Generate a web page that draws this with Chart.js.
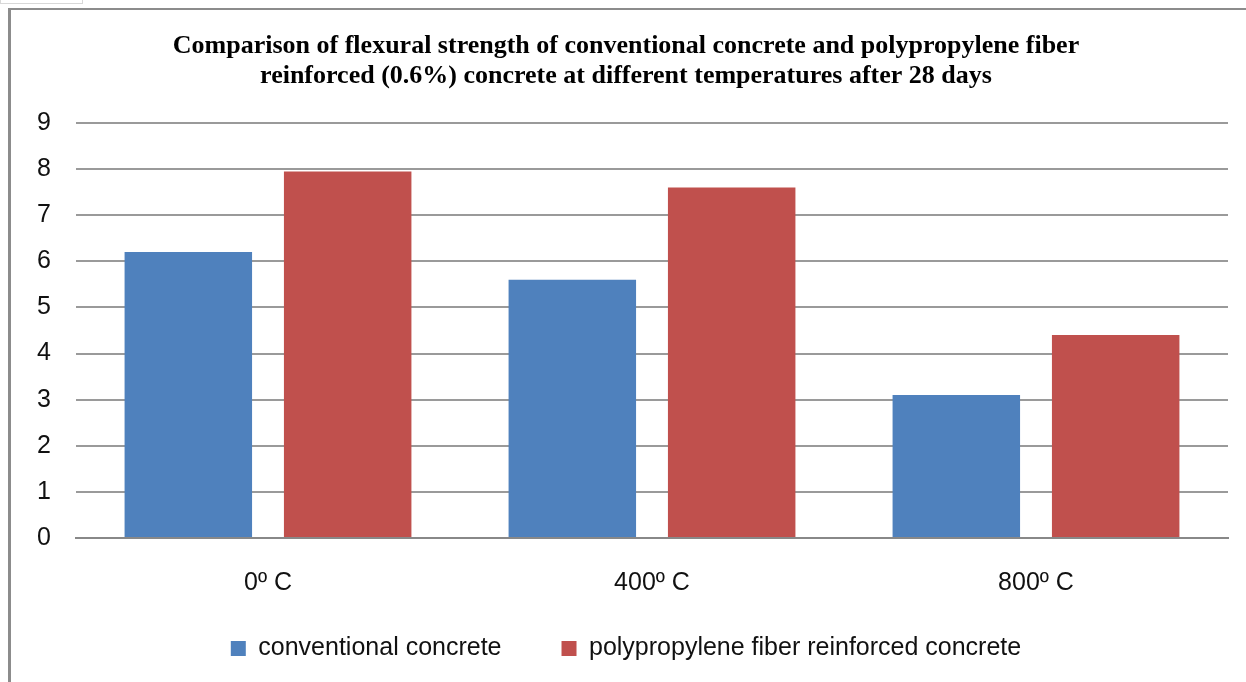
<!DOCTYPE html>
<html>
<head>
<meta charset="utf-8">
<script src="https://cdn.jsdelivr.net/npm/chart.js@4/dist/chart.umd.min.js"></script>
<style>
  html, body { margin: 0; padding: 0; background: #fff; }
  body { width: 1246px; height: 682px; position: relative; overflow: hidden; }
  #tab { position: absolute; left: 0; top: -1px; width: 81px; height: 3px; border: 1px solid #d8d8d8; }
  #frame { position: absolute; left: 8px; top: 8px; width: 1260px; height: 700px;
           border-left: 3px solid #8c8c8c; border-top: 2px solid #8c8c8c; }
  #wrap { position: absolute; left: 11px; top: 10px; width: 1235px; height: 672px; }
</style>
</head>
<body>
<div id="tab"></div>
<div id="frame"></div>
<div id="wrap"><canvas id="chart"></canvas></div>
<script>
// Data
const categories = ['0\u00BA C', '400\u00BA C', '800\u00BA C'];
const conventional = [6.2, 5.6, 3.1];
const polypropylene = [7.95, 7.6, 4.4];
const yTicks = [0, 1, 2, 3, 4, 5, 6, 7, 8, 9];

const titleLines = [
    'Comparison of flexural strength of conventional concrete and polypropylene fiber',
    'reinforced (0.6%) concrete at different temperatures after 28 days'
];

const tickFont = { family: '"Liberation Sans", Arial, sans-serif', size: 25 };

const ctx = document.getElementById('chart').getContext('2d');

const chart = new Chart(ctx, {
    type: 'bar',
    data: {
        labels: categories,
        datasets: [{
            label: 'conventional concrete',
            data: conventional,
            backgroundColor: '#4F81BD',
            categoryPercentage: 0.83,
            barPercentage: 0.8
        }, {
            label: 'polypropylene fiber reinforced concrete',
            data: polypropylene,
            backgroundColor: '#C0504D',
            categoryPercentage: 0.83,
            barPercentage: 0.8
        }]
    },
    options: {
        responsive: true,
        maintainAspectRatio: false,
        animation: false,
        layout: { padding: { left: 13, right: 18, top: 0, bottom: 11 } },
        scales: {
            x: {
                grid: { display: false, drawTicks: false },
                border: { color: '#888888', width: 2 },
                ticks: { color: '#111', font: tickFont, padding: 30 },
                afterFit: (scale) => {
                    scale.height = 38;
                    // labels sit below the (short) axis box, so don't clip them to it
                    scale._computeLabelArea = () => null;
                }
            },
            y: {
                min: 0,
                max: 9,
                afterBuildTicks: (scale) => { scale.ticks = yTicks.map(v => ({ value: v })); },
                grid: { color: '#9a9a9a', lineWidth: 2, drawTicks: false },
                border: { display: false },
                ticks: { color: '#111', font: tickFont, padding: 25 },
                afterFit: (scale) => { scale.width = 52; }
            }
        },
        plugins: {
            title: {
                display: true,
                text: titleLines,
                color: '#000',
                font: { family: '"Liberation Serif", "Times New Roman", serif', size: 26, weight: 'bold', lineHeight: 30 / 26 },
                padding: { top: 21, bottom: 32 }
            },
            legend: {
                position: 'bottom',
                maxHeight: 99,
                labels: {
                    color: '#111',
                    font: tickFont,
                    boxWidth: 15,
                    boxHeight: 15,
                    padding: 60
                }
            },
            tooltip: { enabled: false }
        }
    }
});
</script>
</body>
</html>
